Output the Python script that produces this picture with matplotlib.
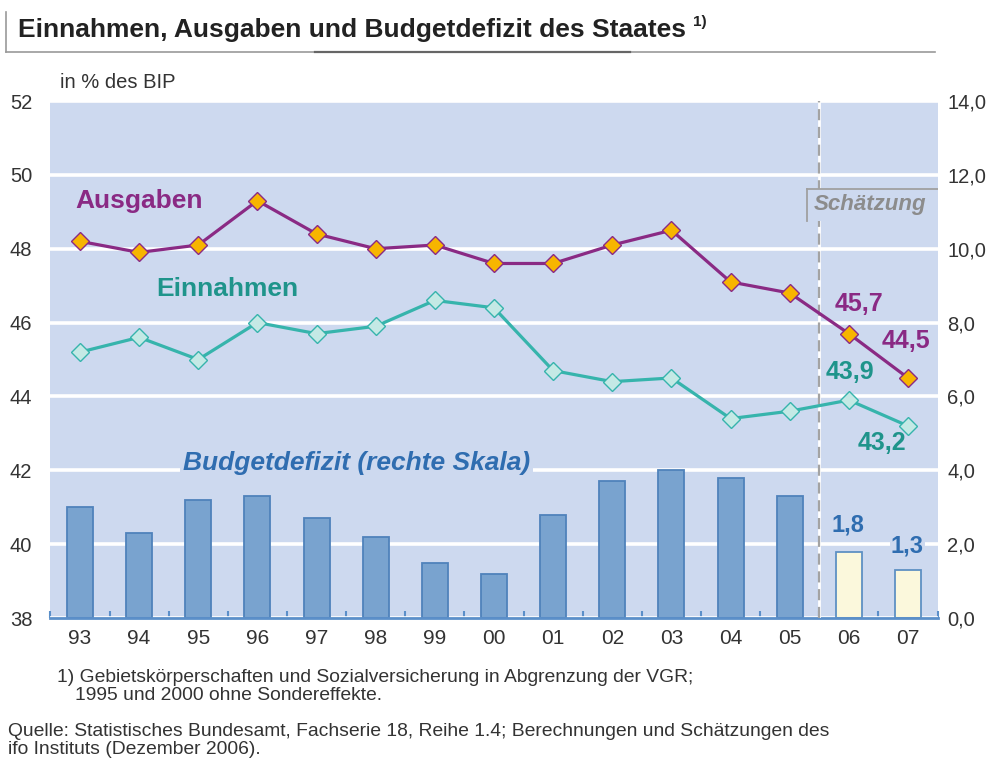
import numpy as np
import matplotlib.pyplot as plt
from matplotlib.lines import Line2D
from matplotlib.patches import Rectangle

plt.rcParams['font.family'] = ['Liberation Sans', 'DejaVu Sans']

# data
years = ['93', '94', '95', '96', '97', '98', '99', '00', '01', '02', '03', '04', '05', '06', '07']
ausgaben = [48.2, 47.9, 48.1, 49.3, 48.4, 48.0, 48.1, 47.6, 47.6, 48.1, 48.5, 47.1, 46.8, 45.7, 44.5]
einnahmen = [45.2, 45.6, 45.0, 46.0, 45.7, 45.9, 46.6, 46.4, 44.7, 44.4, 44.5, 43.4, 43.6, 43.9, 43.2]
defizit = [3.0, 2.3, 3.2, 3.3, 2.7, 2.2, 1.5, 1.2, 2.8, 3.7, 4.0, 3.8, 3.3, 1.8, 1.3]
n_actual = 13  # 93..05 actual, 06 and 07 estimates

left_ticks = [38, 40, 42, 44, 46, 48, 50, 52]
right_ticks = [0, 2, 4, 6, 8, 10, 12, 14]

bg = '#cdd9ef'
purple = '#8a2a84'
teal_line = '#36b4ac'
teal_text = '#1f948b'
blue_text = '#2f6db0'
bar_face = '#79a3cf'
bar_edge = '#4f82bb'
est_face = '#fbf8dc'
est_edge = '#5e90c3'
axis_blue = '#5b8fc9'
txt = '#333333'

W, H = 990, 758
fig = plt.figure(figsize=(9.9, 7.58), dpi=100)


def fx(px):
    return px / W


def fy(py):
    return 1 - py / H


ax_bar = fig.add_axes([fx(50.4), fy(618), (937.6 - 50.4) / W, (618 - 101) / H])
ax = ax_bar.twinx()
ax_bar.yaxis.tick_right()
ax.yaxis.tick_left()

x = np.arange(len(years))

# bars, right scale
ax_bar.set_facecolor(bg)
face = [bar_face] * n_actual + [est_face] * (len(years) - n_actual)
edge = [bar_edge] * n_actual + [est_edge] * (len(years) - n_actual)
ax_bar.bar(x, defizit, width=0.44, color=face, edgecolor=edge, linewidth=1.3, zorder=2)
ax_bar.set_ylim(0, 14)
ax_bar.set_yticks(right_ticks)
ax_bar.set_yticklabels([f'{v:.1f}'.replace('.', ',') for v in right_ticks])
ax_bar.grid(axis='y', color='white', lw=2.6, zorder=1)
ax_bar.set_axisbelow(True)
ax_bar.set_xlim(-0.5, 14.5)
ax_bar.set_xticks(x)
ax_bar.set_xticklabels(years)
ax_bar.set_xticks(np.arange(-0.5, 15, 1), minor=True)
ax_bar.tick_params(axis='x', which='major', length=0, pad=8, labelsize=15, labelcolor=txt)
ax_bar.tick_params(axis='x', which='minor', direction='in', length=5, width=1.5, color=axis_blue)
ax_bar.tick_params(axis='y', length=0, pad=7, labelsize=14.5, labelcolor=txt)
for s in ['top', 'left', 'right']:
    ax_bar.spines[s].set_visible(False)
ax_bar.spines['bottom'].set_color(axis_blue)
ax_bar.spines['bottom'].set_linewidth(2)

# lines, left scale
ax.set_ylim(38, 52)
ax.set_yticks(left_ticks)
ax.tick_params(axis='y', length=0, pad=13, labelsize=14.5, labelcolor=txt)
for s in ax.spines.values():
    s.set_visible(False)

ax.axvline(12.5, color='white', lw=2, zorder=3)
ax.axvline(12.5, color='#a3a3a3', lw=1.6, ls=(0, (5, 3)), zorder=3)

ax.plot(x, ausgaben, color=purple, lw=2.3, marker='D', ms=9, mfc='#f7b500', mec=purple, mew=1, zorder=5)
ax.plot(x, einnahmen, color=teal_line, lw=2.3, marker='D', ms=9, mfc='#c4e9e5', mec=teal_line, mew=1, zorder=5)

ax.text(-0.08, 49.3, 'Ausgaben', color=purple, fontsize=19, fontweight='bold', va='center', ha='left', zorder=6)
ax.text(1.29, 46.9, 'Einnahmen', color=teal_text, fontsize=19, fontweight='bold', va='center', ha='left', zorder=6)
ax.text(1.74, 42.2, 'Budgetdefizit (rechte Skala)', color=blue_text, fontsize=19, fontweight='bold',
        fontstyle='italic', va='center', ha='left', zorder=6,
        bbox=dict(facecolor=bg, edgecolor='none', pad=2))

# estimate box
ax.add_patch(Rectangle((12.29, 48.76), 14.5 - 12.29, 49.62 - 48.76, facecolor=bg, edgecolor='none', zorder=4))
ax.plot([12.29, 12.29], [48.76, 49.62], color='#a0a0a0', lw=1.3, zorder=4)
ax.plot([12.29, 14.5], [49.62, 49.62], color='#a0a0a0', lw=1.3, zorder=4)
ax.text(12.40, 49.19, 'Schätzung', color='#8c8c8c', fontsize=16, fontweight='bold', fontstyle='italic',
        va='center', ha='left', zorder=5)

# value labels for the estimates
ax.text(13.17, 46.49, f'{ausgaben[13]:.1f}'.replace('.', ','), color=purple, fontsize=18, fontweight='bold',
        ha='center', va='center', zorder=6)
ax.text(13.97, 45.49, f'{ausgaben[14]:.1f}'.replace('.', ','), color=purple, fontsize=18, fontweight='bold',
        ha='center', va='center', zorder=6)
ax.text(13.01, 44.65, f'{einnahmen[13]:.1f}'.replace('.', ','), color=teal_text, fontsize=18, fontweight='bold',
        ha='center', va='center', zorder=6)
ax.text(13.56, 42.73, f'{einnahmen[14]:.1f}'.replace('.', ','), color=teal_text, fontsize=18, fontweight='bold',
        ha='center', va='center', zorder=6)
ax_bar.text(12.98, 2.52, f'{defizit[13]:.1f}'.replace('.', ','), color=blue_text, fontsize=17, fontweight='bold',
            ha='center', va='center', zorder=6)
ax_bar.text(13.99, 1.95, f'{defizit[14]:.1f}'.replace('.', ','), color=blue_text, fontsize=17, fontweight='bold',
            ha='center', va='center', zorder=6, bbox=dict(facecolor=bg, edgecolor='none', pad=1))

# title and frame
fig.text(fx(18), fy(37.5), 'Einnahmen, Ausgaben und Budgetdefizit des Staates', fontsize=19,
         fontweight='bold', color='#222222', va='baseline', ha='left')
fig.text(fx(693), fy(26), '1)', fontsize=11, fontweight='bold', color='#222222', va='baseline', ha='left')
fig.add_artist(Line2D([fx(6), fx(6)], [fy(12), fy(52)], color='#9a9a9a', lw=1.2))
fig.add_artist(Line2D([fx(6), fx(935)], [fy(52), fy(52)], color='#9a9a9a', lw=1.2))
fig.add_artist(Line2D([fx(315), fx(630)], [fy(52), fy(52)], color='#666666', lw=1.6))

fig.text(fx(60), fy(83), 'in % des BIP', fontsize=14.5, color=txt, va='center', ha='left')

# footnotes
fig.text(fx(57), fy(677), '1) Gebietskörperschaften und Sozialversicherung in Abgrenzung der VGR;',
         fontsize=13.9, color=txt, va='center', ha='left')
fig.text(fx(75), fy(695), '1995 und 2000 ohne Sondereffekte.', fontsize=13.9, color=txt, va='center', ha='left')
fig.text(fx(8), fy(731), 'Quelle: Statistisches Bundesamt, Fachserie 18, Reihe 1.4; Berechnungen und Schätzungen des',
         fontsize=13.9, color=txt, va='center', ha='left')
fig.text(fx(8), fy(749), 'ifo Instituts (Dezember 2006).', fontsize=13.9, color=txt, va='center', ha='left')

fig.savefig('out.png', dpi=100, facecolor='white')
